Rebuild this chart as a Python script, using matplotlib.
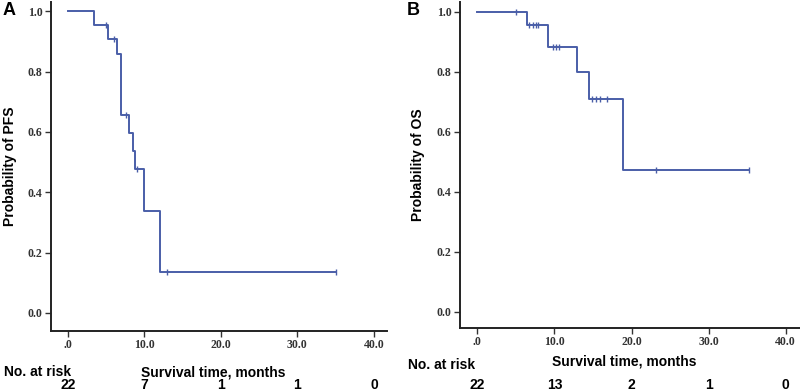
import matplotlib
matplotlib.use("Agg")
import matplotlib.pyplot as plt
import matplotlib.transforms as mtransforms

# Panel A: progression-free survival (Kaplan-Meier step values)
pfs_times = [0, 3.5, 5.2, 6.5, 6.9, 8.0, 8.5, 8.8, 10.0, 12.0, 35.0]
pfs_surv = [1.0, 0.955, 0.909, 0.857, 0.655, 0.597, 0.537, 0.476, 0.339, 0.136, 0.136]
pfs_cens_t = [5.0, 6.0, 7.6, 9.1, 13.0, 35.0]
pfs_cens_s = [0.955, 0.909, 0.655, 0.476, 0.136, 0.136]
pfs_risk = ["22", "7", "1", "1", "0"]

# Panel B: overall survival
os_times = [0, 6.45, 9.2, 12.9, 14.5, 18.9, 35.2]
os_surv = [1.0, 0.956, 0.884, 0.798, 0.710, 0.473, 0.473]
os_cens_t = [5.0, 6.75, 7.2, 7.6, 7.9, 9.8, 10.2, 10.55, 14.9, 15.4, 15.9, 16.8, 23.2, 35.2]
os_cens_s = [1.0, 0.956, 0.956, 0.956, 0.956, 0.884, 0.884, 0.884, 0.710, 0.710, 0.710, 0.710, 0.473, 0.473]
os_risk = ["22", "13", "2", "1", "0"]

risk_times = [0, 10, 20, 30, 40]
x_ticks = [0, 10, 20, 30, 40]
x_labels = [".0", "10.0", "20.0", "30.0", "40.0"]
y_ticks = [0.0, 0.2, 0.4, 0.6, 0.8, 1.0]
y_labels = ["0.0", "0.2", "0.4", "0.6", "0.8", "1.0"]

LINE = "#4a5ea8"
SANS = "Liberation Sans"
SERIF = "Liberation Serif"

fig = plt.figure(figsize=(8, 3.92), dpi=100)


def draw_panel(rect, xlim, ylim, times, surv, cens_t, cens_s, risk, ylabel, letter,
               letter_x, ylabel_x, risk_y, title_y, numbers_y):
    ax = fig.add_axes(rect)
    ax.step(times, surv, where="post", color=LINE, lw=1.4)
    ax.plot(cens_t, cens_s, "|", color=LINE, ms=4, mew=1.0)
    ax.set_xlim(*xlim)
    ax.set_ylim(*ylim)
    for s in ["top", "right"]:
        ax.spines[s].set_visible(False)
    for s in ["left", "bottom"]:
        ax.spines[s].set_linewidth(1.4)
        ax.spines[s].set_color("#222222")
    ax.set_xticks(x_ticks)
    ax.set_xticklabels(x_labels, fontfamily=SERIF, fontweight="bold", fontsize=8.5,
                       color="#333333")
    ax.set_yticks(y_ticks)
    ax.set_yticklabels(y_labels, fontfamily=SERIF, fontweight="bold", fontsize=8.5,
                       color="#333333")
    ax.tick_params(direction="out", length=4, width=1.0, color="#333333", pad=2)

    fig.text(ylabel_x, rect[1] + rect[3] / 2, ylabel, rotation=90, ha="center", va="center",
             fontfamily=SANS, fontweight="bold", fontsize=10)
    fig.text(letter_x, 0.972, letter, ha="left", va="center",
             fontfamily=SANS, fontweight="bold", fontsize=13)

    trans = mtransforms.blended_transform_factory(ax.transData, fig.transFigure)
    fig.text(letter_x + 0.002, risk_y, "No. at risk", ha="left", va="center",
             fontfamily=SANS, fontweight="bold", fontsize=10)
    ax.text(19, title_y, "Survival time, months", transform=trans, ha="center", va="center",
            fontfamily=SANS, fontweight="bold", fontsize=10)
    for t, n in zip(risk_times, risk):
        ax.text(t, numbers_y, n, transform=trans, ha="center", va="center",
                fontfamily=SANS, fontweight="bold", fontsize=10)
    return ax


draw_panel([0.06375, 0.1556, 0.42, 0.839], (-2.18, 41.7), (-0.06, 1.03),
           pfs_times, pfs_surv, pfs_cens_t, pfs_cens_s, pfs_risk,
           "Probability of PFS", "A", 0.003, 0.012, 0.051, 0.051, 0.018)
draw_panel([0.575, 0.1633, 0.425, 0.8316], (-2.24, 41.85), (-0.054, 1.033),
           os_times, os_surv, os_cens_t, os_cens_s, os_risk,
           "Probability of OS", "B", 0.508, 0.522, 0.069, 0.077, 0.018)

fig.savefig("out.png", dpi=100)
